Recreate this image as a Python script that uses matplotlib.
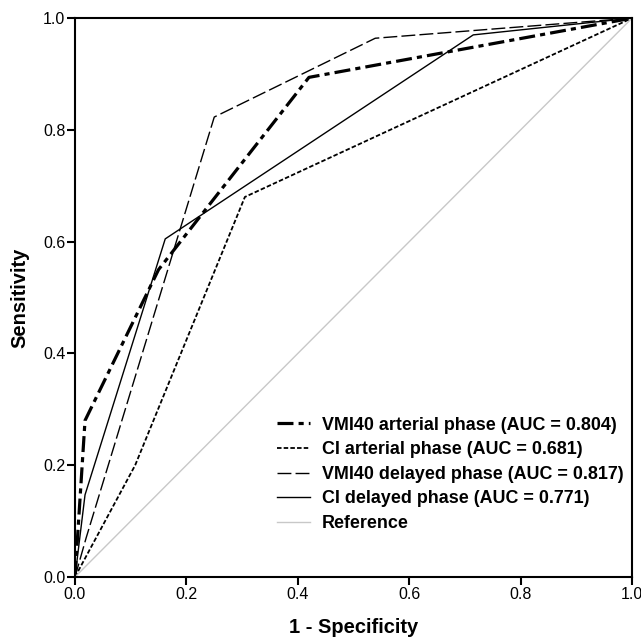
import numpy as np
import matplotlib.pyplot as plt

plt.rcParams['font.family'] = ['Liberation Sans', 'DejaVu Sans']

# ROC curve points (1 - specificity, sensitivity)
vmi_art_x = [0.0, 0.018, 0.15, 0.42, 1.0]
vmi_art_y = [0.0, 0.28, 0.55, 0.894, 1.0]

ci_art_x = [0.0, 0.108, 0.305, 1.0]
ci_art_y = [0.0, 0.20, 0.68, 1.0]

vmi_del_x = [0.0, 0.02, 0.25, 0.539, 1.0]
vmi_del_y = [0.0, 0.07, 0.823, 0.964, 1.0]

ci_del_x = [0.0, 0.018, 0.162, 0.715, 1.0]
ci_del_y = [0.0, 0.147, 0.605, 0.97, 1.0]

labels = ['VMI40 arterial phase (AUC = 0.804)',
          'CI arterial phase (AUC = 0.681)',
          'VMI40 delayed phase (AUC = 0.817)',
          'CI delayed phase (AUC = 0.771)',
          'Reference']

fig = plt.figure(figsize=(6.41, 6.38), dpi=100)
ax = fig.add_axes([0.117, 0.0956, 0.869, 0.876])

ax.plot(vmi_art_x, vmi_art_y, color='black', lw=2.3, dashes=(5, 1.6, 1.6, 1.6), label=labels[0])
ax.plot(ci_art_x, ci_art_y, color='black', lw=1.3, dashes=(2.5, 1.2), label=labels[1])
ax.plot(vmi_del_x, vmi_del_y, color='black', lw=1.0, dashes=(10, 3), label=labels[2])
ax.plot(ci_del_x, ci_del_y, color='black', lw=1.0, label=labels[3])
ax.plot([0, 1], [0, 1], color='#c8c8c8', lw=1.0, label=labels[4])

ax.set_xlim(0, 1)
ax.set_ylim(0, 1)
ticks = [0.0, 0.2, 0.4, 0.6, 0.8, 1.0]
ax.set_xticks(ticks)
ax.set_yticks(ticks)
ax.set_xticklabels(['%.1f' % t for t in ticks], fontsize=11.5)
ax.set_yticklabels(['%.1f' % t for t in ticks], fontsize=11.5)
ax.tick_params(direction='out', length=6, width=1.5, pad=1)
for s in ax.spines.values():
    s.set_linewidth(1.5)

ax.set_xlabel('1 - Specificity', fontsize=14.5, fontweight='bold', labelpad=12)
ax.set_ylabel('Sensitivity', fontsize=14.5, fontweight='bold', labelpad=10)

leg = ax.legend(loc='lower right', frameon=False, handlelength=1.85, handletextpad=0.65,
                labelspacing=0.42, borderaxespad=0, prop={'weight': 'bold', 'size': 12.9},
                bbox_to_anchor=(0.998, 0.068))

fig.savefig('out.png', dpi=100)
